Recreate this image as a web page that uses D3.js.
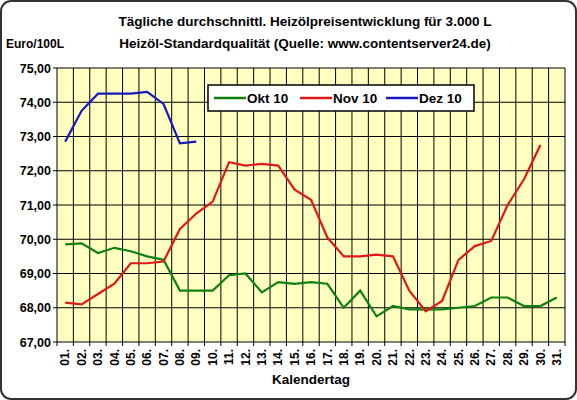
<!DOCTYPE html>
<html><head><meta charset="utf-8">
<script src="https://cdn.jsdelivr.net/npm/d3@7"></script>
<style>body{margin:0;background:#fff}</style>
</head><body><div id="wrapper"></div>
<script>
const days = d3.range(1, 32).map(d => String(d).padStart(2, "0") + ".");
const okt = [69.85,69.88,69.6,69.75,69.65,69.5,69.4,68.5,68.5,68.5,68.95,69.0,68.45,68.75,68.7,68.75,68.7,68.0,68.5,67.75,68.05,67.95,67.95,67.95,68.0,68.05,68.3,68.3,68.05,68.05,68.3];
const nov = [68.15,68.1,68.4,68.7,69.3,69.3,69.35,70.3,70.75,71.1,72.25,72.15,72.2,72.15,71.45,71.15,70.05,69.5,69.5,69.55,69.5,68.5,67.9,68.2,69.4,69.8,69.95,71.0,71.75,72.75];
const dez = [72.85,73.75,74.25,74.25,74.25,74.3,73.95,72.8,72.85];
const yTicks = d3.range(67, 75.01, 1);
const series = [
  {name: "Okt 10", values: okt, color: "#108010"},
  {name: "Nov 10", values: nov, color: "#e01818"},
  {name: "Dez 10", values: dez, color: "#1818c0"}
];

const W = 577, H = 400;
const m = {left: 57, right: 12, top: 68, bottom: 58};
const svg = d3.select("#wrapper").append("svg").attr("width", W).attr("height", H)
  .style("font-family", "Arial, 'Liberation Sans', sans-serif");

svg.append("rect").attr("x", 1).attr("y", 1).attr("width", W - 2).attr("height", H - 2)
  .attr("rx", 10).attr("fill", "#fff").attr("stroke", "#333").attr("stroke-width", 2);

const x = d3.scaleBand().domain(days).range([m.left, W - m.right]);
const y = d3.scaleLinear().domain([67, 75]).range([H - m.bottom, m.top]);

svg.append("rect").attr("x", m.left).attr("y", m.top)
  .attr("width", W - m.right - m.left).attr("height", H - m.bottom - m.top).attr("fill", "#ffffc0");

const grid = svg.append("g").attr("stroke", "#000").attr("stroke-width", 1);
days.forEach(d => grid.append("line").attr("x1", x(d) + x.bandwidth()).attr("x2", x(d) + x.bandwidth())
  .attr("y1", m.top).attr("y2", H - m.bottom + 4));
yTicks.forEach(t => grid.append("line").attr("x1", m.left - 4).attr("x2", W - m.right)
  .attr("y1", y(t)).attr("y2", y(t)));
grid.append("line").attr("x1", m.left).attr("x2", m.left).attr("y1", m.top).attr("y2", H - m.bottom + 4);

svg.append("g").attr("transform", `translate(${m.left},0)`)
  .call(d3.axisLeft(y).tickValues(yTicks).tickSize(0).tickPadding(6).tickFormat(d => d3.format(".2f")(d).replace(".", ",")))
  .call(g => g.select(".domain").remove())
  .selectAll("text").attr("font-size", 12.5).attr("font-weight", "bold");

const xa = svg.append("g").attr("transform", `translate(0,${H - m.bottom})`)
  .call(d3.axisBottom(x).tickSize(0).tickPadding(0));
xa.select(".domain").remove();
xa.selectAll("text").attr("font-size", 12).attr("font-weight", "bold")
  .attr("transform", "translate(0,7) rotate(-90)").attr("text-anchor", "end").attr("dy", "0.35em").attr("x", 0).attr("y", 0);

const line = d3.line().x((v, i) => x(days[i]) + x.bandwidth() / 2).y(v => y(v));
series.forEach(s => svg.append("path").datum(s.values).attr("d", line)
  .attr("fill", "none").attr("stroke", s.color).attr("stroke-width", 2.2));

svg.append("text").attr("x", 305).attr("y", 26).attr("text-anchor", "middle").attr("font-size", 13.5).attr("font-weight", "bold")
  .text("Tägliche durchschnittl. Heizölpreisentwicklung für 3.000 L");
svg.append("text").attr("x", 305).attr("y", 48).attr("text-anchor", "middle").attr("font-size", 13.5).attr("font-weight", "bold")
  .text("Heizöl-Standardqualität (Quelle: www.contentserver24.de)");
svg.append("text").attr("x", 6).attr("y", 48).attr("font-size", 12).attr("font-weight", "bold").text("Euro/100L");
svg.append("text").attr("x", 311).attr("y", 384).attr("text-anchor", "middle").attr("font-size", 13.5).attr("font-weight", "bold").text("Kalendertag");

const lg = svg.append("g");
lg.append("rect").attr("x", 208).attr("y", 85).attr("width", 266).attr("height", 26)
  .attr("fill", "#fff").attr("stroke", "#000").attr("stroke-width", 1.5);
const lx = [214, 300, 386];
series.forEach((s, i) => {
  lg.append("line").attr("x1", lx[i]).attr("x2", lx[i] + 32).attr("y1", 98).attr("y2", 98).attr("stroke", s.color).attr("stroke-width", 2.5);
  lg.append("text").attr("x", lx[i] + 33).attr("y", 103).attr("font-size", 13.5).attr("font-weight", "bold").text(s.name);
});
</script></body></html>
